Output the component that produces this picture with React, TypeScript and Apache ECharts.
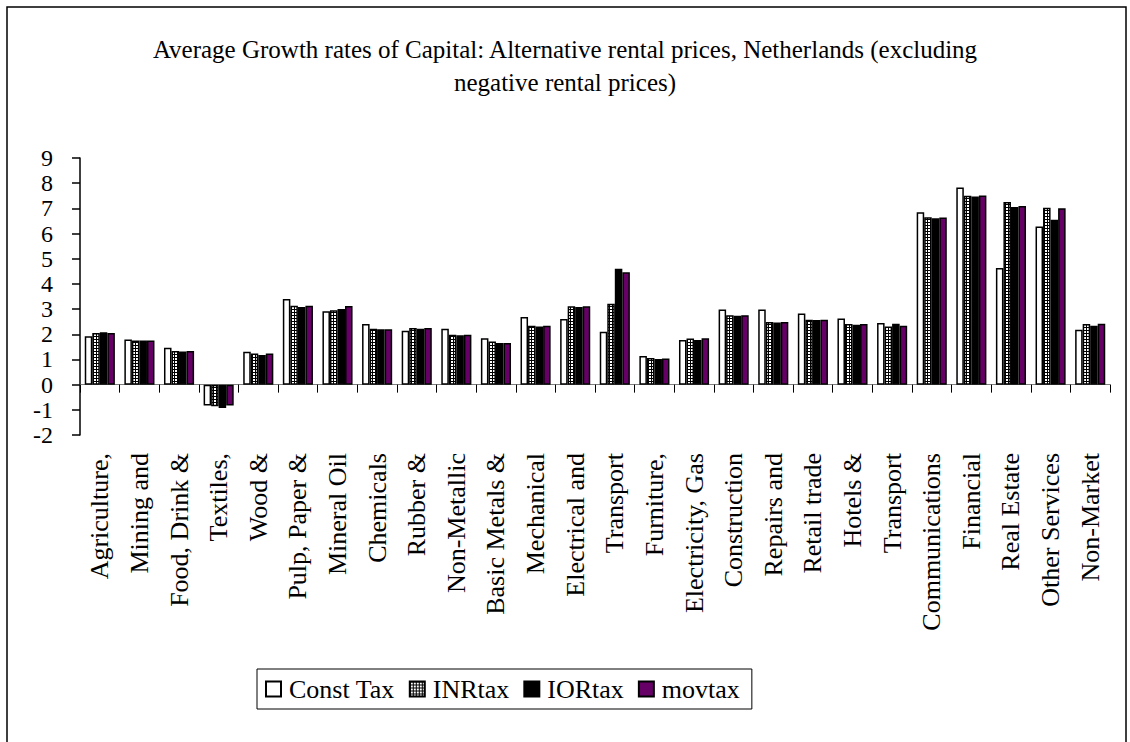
import React, { useEffect, useRef } from "react";
import * as echarts from "echarts";

const titleText =
  "Average Growth rates of Capital: Alternative rental prices, Netherlands (excluding\nnegative rental prices)";

const categories = [
  "Agriculture,",
  "Mining and",
  "Food, Drink &",
  "Textiles,",
  "Wood &",
  "Pulp, Paper &",
  "Mineral Oil",
  "Chemicals",
  "Rubber &",
  "Non-Metallic",
  "Basic Metals &",
  "Mechanical",
  "Electrical and",
  "Transport",
  "Furniture,",
  "Electricity, Gas",
  "Construction",
  "Repairs and",
  "Retail trade",
  "Hotels &",
  "Transport",
  "Communications",
  "Financial",
  "Real Estate",
  "Other Services",
  "Non-Market",
];

const seriesNames = ["Const Tax", "INRtax", "IORtax", "movtax"];

const constTax = [1.92, 1.79, 1.46, -0.83, 1.31, 3.4, 2.91, 2.41, 2.14, 2.22, 1.84, 2.69, 2.61, 2.1, 1.14, 1.77, 2.98, 2.98, 2.82, 2.63, 2.45, 6.85, 7.83, 4.63, 6.28, 2.18];
const inrTax = [2.05, 1.75, 1.34, -0.86, 1.24, 3.13, 2.95, 2.22, 2.25, 1.98, 1.71, 2.34, 3.11, 3.21, 1.06, 1.83, 2.76, 2.49, 2.58, 2.41, 2.31, 6.65, 7.5, 7.25, 7.02, 2.41];
const iorTax = [2.08, 1.75, 1.32, -0.93, 1.18, 3.08, 3.0, 2.2, 2.22, 1.96, 1.65, 2.31, 3.08, 4.6, 1.02, 1.77, 2.74, 2.47, 2.57, 2.38, 2.42, 6.61, 7.47, 7.05, 6.55, 2.34];
const movTax = [2.05, 1.75, 1.34, -0.83, 1.24, 3.13, 3.12, 2.2, 2.25, 1.98, 1.65, 2.34, 3.11, 4.46, 1.04, 1.84, 2.76, 2.49, 2.58, 2.41, 2.34, 6.64, 7.51, 7.09, 7.0, 2.42];

const yMin = -2;
const yMax = 9;
const yInterval = 1;

const FONT = "'Liberation Serif', 'Times New Roman', serif";

export default function App() {
  const ref = useRef<HTMLDivElement | null>(null);

  useEffect(() => {
    document.body.style.margin = "0";
    if (!ref.current) return;
    const chart = echarts.init(ref.current, undefined, { renderer: "svg" });

    const pat = document.createElement("canvas");
    pat.width = 3;
    pat.height = 3;
    const c = pat.getContext("2d");
    if (c) {
      c.fillStyle = "#000";
      c.fillRect(0, 0, 3, 3);
      c.fillStyle = "#fff";
      c.fillRect(1, 1, 2, 2);
    }

    const fills: any[] = ["#ffffff", { image: pat, repeat: "repeat" }, "#000000", "#660066"];
    const values = [constTax, inrTax, iorTax, movTax];

    chart.setOption({
      animation: false,
      backgroundColor: "#ffffff",
      title: {
        text: titleText,
        left: "center",
        top: 28,
        textStyle: {
          fontFamily: FONT,
          fontSize: 25,
          fontWeight: "normal",
          color: "#000",
          lineHeight: 33,
        },
      },
      graphic: [
        {
          type: "rect",
          shape: { x: 7, y: 7, width: 1119, height: 800 },
          style: { fill: "none", stroke: "#000", lineWidth: 1.5 },
          silent: true,
        },
      ],
      legend: {
        data: seriesNames,
        left: 257,
        top: 669,
        orient: "horizontal",
        icon: "rect",
        itemWidth: 15,
        itemHeight: 15,
        itemGap: 14,
        padding: [6, 12, 6, 8],
        borderColor: "#000",
        borderWidth: 1,
        textStyle: {
          fontFamily: FONT,
          fontSize: 26,
          color: "#000",
          lineHeight: 28,
          padding: [0, 0, 0, 3],
        },
      },
      grid: { left: 80, right: 20, top: 158, bottom: 307, containLabel: false },
      xAxis: [
        {
          type: "category",
          data: categories,
          position: "bottom",
          axisLine: { show: true, onZero: true, lineStyle: { color: "#808080", width: 1 } },
          axisTick: { show: true, interval: 0, length: 8, lineStyle: { color: "#000", width: 1 } },
          axisLabel: { show: false },
          splitLine: { show: false },
        },
        {
          type: "category",
          data: categories,
          position: "bottom",
          axisLine: { show: false, onZero: false },
          axisTick: { show: false },
          axisLabel: {
            show: true,
            interval: 0,
            rotate: 90,
            margin: 18,
            fontFamily: FONT,
            fontSize: 26,
            color: "#000",
          },
          splitLine: { show: false },
        },
      ],
      yAxis: {
        type: "value",
        min: yMin,
        max: yMax,
        interval: yInterval,
        axisLine: { show: true, lineStyle: { color: "#000", width: 1.5 } },
        axisTick: { show: true, inside: false, length: 8, lineStyle: { color: "#000", width: 1.5 } },
        axisLabel: {
          fontFamily: FONT,
          fontSize: 24,
          lineHeight: 22,
          color: "#000",
          margin: 27,
          showMinLabel: true,
          showMaxLabel: true,
        },
        splitLine: { show: false },
      },
      series: seriesNames.map((name, i) => ({
        name,
        type: "bar",
        xAxisIndex: 0,
        data: values[i],
        barGap: "0%",
        barCategoryGap: "24%",
        itemStyle: { color: fills[i], borderColor: "#000", borderWidth: 1.5 },
        emphasis: { disabled: true },
      })),
    });

    return () => {
      chart.dispose();
    };
  }, []);

  return <div ref={ref} style={{ width: 1130, height: 742 }} />;
}
